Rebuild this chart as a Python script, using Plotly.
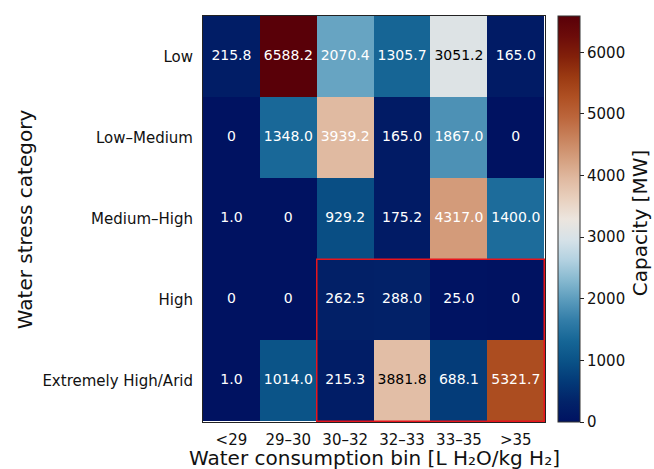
import plotly.graph_objects as go

# Water-stress categories (rows) and water-consumption bins (columns)
stress_categories = ["Low", "Low\u2013Medium", "Medium\u2013High", "High", "Extremely High/Arid"]
consumption_bins = ["<29", "29\u201330", "30\u201332", "32\u201333", "33\u201335", ">35"]

# Installed capacity [MW] per stress category and consumption bin
capacity_low = [215.8, 6588.2, 2070.4, 1305.7, 3051.2, 165.0]
capacity_low_medium = [0, 1348.0, 3939.2, 165.0, 1867.0, 0]
capacity_medium_high = [1.0, 0, 929.2, 175.2, 4317.0, 1400.0]
capacity_high = [0, 0, 262.5, 288.0, 25.0, 0]
capacity_extremely_high = [1.0, 1014.0, 215.3, 3881.8, 688.1, 5321.7]

z = [capacity_low, capacity_low_medium, capacity_medium_high,
     capacity_high, capacity_extremely_high]

# Diverging navy -> off-white -> brown -> dark red scale ("vik"-like)
scale_colors = [
    (0, 18, 97), (2, 35, 105), (3, 58, 120), (10, 82, 135), (22, 102, 150),
    (50, 125, 168), (90, 155, 188), (135, 185, 208), (180, 210, 225),
    (215, 226, 232), (236, 229, 222), (232, 208, 190), (224, 185, 160),
    (212, 158, 125), (200, 130, 92), (188, 102, 60), (175, 80, 35),
    (155, 58, 18), (130, 32, 10), (108, 12, 10), (89, 0, 8),
]
colorscale = [[i / (len(scale_colors) - 1), f"rgb{c}"] for i, c in enumerate(scale_colors)]

zmax = max(max(row) for row in z)
font = "DejaVu Sans"
ink = "#111"

fig = go.Figure()
fig.add_trace(go.Heatmap(
    z=z, x=consumption_bins, y=stress_categories,
    colorscale=colorscale, zmin=0, zmax=zmax,
    colorbar=dict(
        x=1.038, xanchor="left", y=0.5, yanchor="middle",
        len=1.0, lenmode="fraction", thickness=22, thicknessmode="pixels",
        xpad=0, ypad=0,
        outlinewidth=1, outlinecolor="#333",
        ticks="outside", ticklen=4, tickwidth=1, tickcolor="#222",
        tickvals=[0, 1000, 2000, 3000, 4000, 5000, 6000],
        tickfont=dict(family=font, size=15, color=ink),
    ),
    hoverongaps=False,
))

# Cell labels: dark text on the pale middle of the scale, white elsewhere
xs, ys, labels, colors = [], [], [], []
for r, row in enumerate(z):
    for c, v in enumerate(row):
        xs.append(consumption_bins[c])
        ys.append(stress_categories[r])
        labels.append("0" if v == 0 else f"{v:.1f}")
        frac = v / zmax
        colors.append("black" if 0.4 <= frac < 0.595 else "white")

fig.add_trace(go.Scatter(
    x=xs, y=ys, mode="text", text=labels,
    textfont=dict(family=font, size=14, color=colors),
    hoverinfo="skip", showlegend=False,
))

# Highlight of the high-stress, high-consumption block
fig.add_shape(type="rect", xref="x", yref="y",
              x0=1.5, x1=5.5, y0=2.5, y1=4.5,
              line=dict(color="#e8141c", width=1.5), layer="above")

# Axis and colour-bar titles
fig.add_annotation(text="Water consumption bin [L H\u2082O/kg H\u2082]",
                   xref="paper", yref="paper", x=0.5, y=-0.0895,
                   xanchor="center", yanchor="middle", showarrow=False,
                   font=dict(family=font, size=20, color=ink))
fig.add_annotation(text="Water stress category", textangle=-90,
                   xref="paper", yref="paper", x=-0.52, y=0.5,
                   xanchor="center", yanchor="middle", showarrow=False,
                   font=dict(family=font, size=20, color=ink))
fig.add_annotation(text="Capacity [MW]", textangle=-90,
                   xref="paper", yref="paper", x=1.278, y=0.49,
                   xanchor="center", yanchor="middle", showarrow=False,
                   font=dict(family=font, size=20, color=ink))

fig.update_xaxes(
    tickfont=dict(family=font, size=15, color=ink),
    ticks="", ticklabelstandoff=4,
    showline=True, linecolor="#222", linewidth=1, mirror=True,
    showgrid=False, zeroline=False, automargin=False,
)
fig.update_yaxes(
    tickfont=dict(family=font, size=15, color=ink),
    ticks="", ticklabelstandoff=6,
    showline=True, linecolor="#222", linewidth=1, mirror=True,
    showgrid=False, zeroline=False, autorange="reversed", automargin=False,
)

fig.update_layout(
    width=654, height=469,
    margin=dict(l=203, r=109, t=16, b=47),
    paper_bgcolor="white", plot_bgcolor="white",
    font=dict(family=font),
)

fig.write_html("out.html")
